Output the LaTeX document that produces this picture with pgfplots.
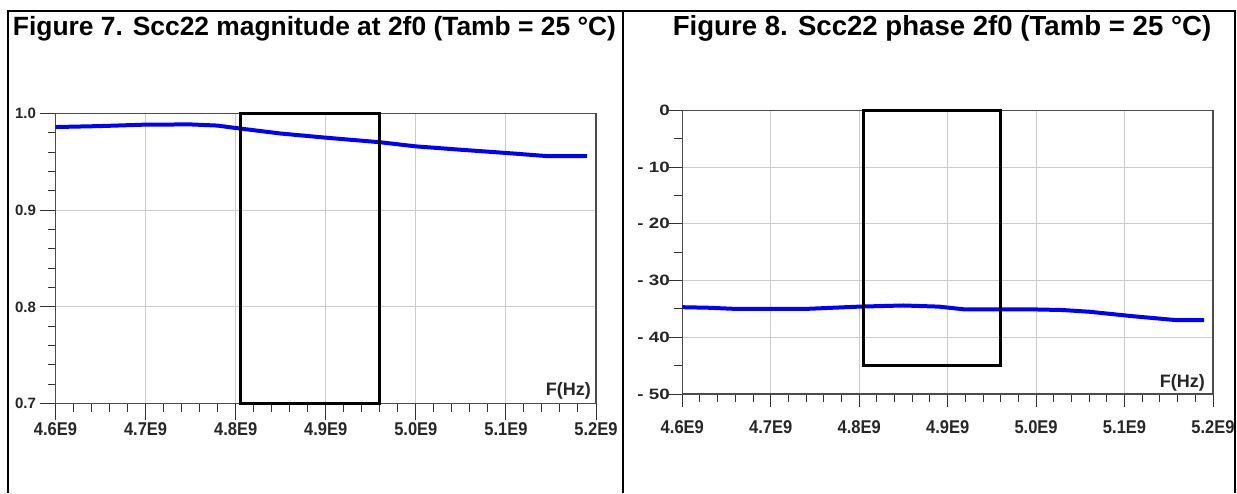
\documentclass[border=0pt]{standalone}
\usepackage{fontspec}
\setmainfont{Liberation Sans}
\usepackage{graphicx}
\usepackage{pgfplots}
\pgfplotsset{compat=1.18}
\newcommand\xl[1]{\scalebox{1}[1.12]{#1}}
\newcommand\yl[1]{\scalebox{1.25}[1]{#1}}
\begin{document}
\begin{tikzpicture}[x=1pt,y=1pt]
\path[use as bounding box] (0,0) rectangle (1237,-493);
\pgfplotsset{
  common/.style={
    scale only axis,
    tick align=outside,
    tick pos=left,
    every tick/.style={black!80, line width=1pt},
    grid=major,
    major grid style={gray!40, line width=1pt},
    axis line style={black!70, line width=1.3pt},
    xmin=4.6, xmax=5.2,
    xtick={4.6,4.7,4.8,4.9,5.0,5.1,5.2},
    minor x tick num=4,
    ticklabel style={black!85},
    xticklabel style={font=\fontsize{16.5}{16.5}\selectfont\bfseries},
    yticklabel style={font=\fontsize{15}{15}\selectfont\bfseries},
    clip=false,
  }
}
\begin{axis}[common,
  at={(55.5pt,-403.5pt)}, anchor=south west,
  width=540.5pt, height=290pt,
  major tick length=16pt,
  minor tick length=8pt,
  xticklabels={\xl{4.6E9},\xl{4.7E9},\xl{4.8E9},\xl{4.9E9},\xl{5.0E9},\xl{5.1E9},\xl{5.2E9}},
  xticklabel style={yshift=0pt},
  ymin=0.7, ymax=1.0,
  ytick={0.7,0.8,0.9,1.0},
  yticklabels={0.7,0.8,0.9,1.0},
  minor y tick num=4,
]
\addplot[blue, line width=4pt, line join=round] coordinates {
(4.60,0.9860) (4.65,0.9870) (4.70,0.9885) (4.75,0.9887) (4.78,0.9875)
(4.80,0.9850) (4.85,0.9793) (4.90,0.9750) (4.96,0.9703) (5.00,0.9660)
(5.05,0.9625) (5.10,0.9592) (5.145,0.9560) (5.19,0.9558)};
\addplot[black, line width=3pt] coordinates {(4.805,0.7) (4.805,1.0) (4.96,1.0) (4.96,0.7)} -- cycle;
\node[anchor=base east, font=\fontsize{18}{18}\selectfont\bfseries, inner sep=0pt, black!85] at ([xshift=-5pt,yshift=8pt]rel axis cs:1,0) {F(Hz)};
\end{axis}
\begin{axis}[common,
  at={(682.3pt,-394pt)}, anchor=south west,
  width=530.7pt, height=283.7pt,
  major tick length=13pt,
  minor tick length=8pt,
  xticklabels={\xl{4.6E9},\xl{4.7E9},\xl{4.8E9},\xl{4.9E9},\xl{5.0E9},\xl{5.1E9},\xl{5.2E9}},
  xticklabel style={yshift=-10pt},
  ymin=-50, ymax=0,
  ytick={-50,-40,-30,-20,-10,0},
  yticklabels={\yl{- 50},\yl{- 40},\yl{- 30},\yl{- 20},\yl{- 10},\yl{0}},
  yticklabel style={xshift=4pt},
  minor y tick num=1,
]
\addplot[blue, line width=4pt, line join=round] coordinates {
(4.60,-34.7) (4.63,-34.8) (4.66,-35.0) (4.70,-35.0) (4.74,-35.0) (4.77,-34.8)
(4.80,-34.6) (4.85,-34.4) (4.89,-34.6) (4.92,-35.1) (5.00,-35.1) (5.03,-35.2)
(5.06,-35.5) (5.11,-36.3) (5.16,-37.0) (5.19,-37.0)};
\addplot[black, line width=3pt] coordinates {(4.805,-45) (4.805,0) (4.96,0) (4.96,-45)} -- cycle;
\node[anchor=base east, font=\fontsize{18}{18}\selectfont\bfseries, inner sep=0pt, black!85] at ([xshift=-8pt,yshift=7pt]rel axis cs:1,0) {F(Hz)};
\end{axis}
\draw[black, line width=2pt] (7,-11) -- (1236,-11);
\draw[black, line width=2pt] (8,-11) -- (8,-493);
\draw[black, line width=2pt] (622.5,-11) -- (622.5,-493);
\draw[black, line width=2pt] (1235,-11) -- (1235,-493);
\node[anchor=base, font=\fontsize{26.4}{26.4}\selectfont\bfseries, inner sep=0pt] at (314.5,-35) {Figure 7. Scc22 magnitude at 2f0 (Tamb = 25 °C)};
\node[anchor=base, font=\fontsize{27.6}{27.6}\selectfont\bfseries, inner sep=0pt] at (942,-35) {Figure 8. Scc22 phase 2f0 (Tamb = 25 °C)};
\end{tikzpicture}
\end{document}
